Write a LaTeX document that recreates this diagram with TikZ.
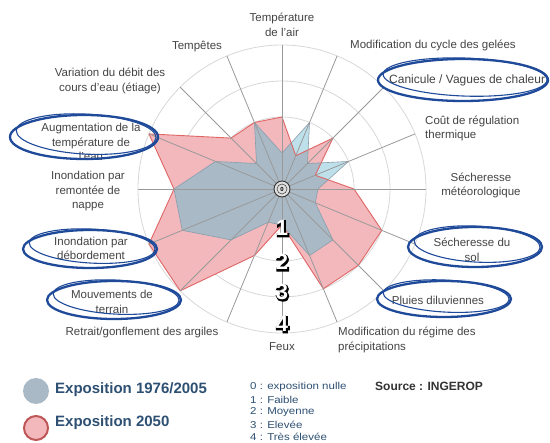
\documentclass[tikz,border=0pt]{standalone}
\usepackage{fontspec}
\setmainfont{Liberation Sans}
\newfontfamily\numout[FakeBold=10]{Liberation Sans Bold}
\usetikzlibrary{calc}
\definecolor{lbl}{HTML}{444444}
\definecolor{ringc}{HTML}{D8D8D8}
\definecolor{spokec}{HTML}{9A9A9A}
\definecolor{redfill}{HTML}{F2B8BC}
\definecolor{redline}{HTML}{E06666}
\definecolor{cyanfill}{HTML}{BEE0EA}
\definecolor{overfill}{HTML}{A9B9C6}
\definecolor{blueline}{HTML}{8C9CAA}
\definecolor{inkblue}{HTML}{1F4A9A}
\definecolor{legblue}{HTML}{2E5073}
\begin{document}
\begin{tikzpicture}[x=1pt,y=-1pt,
  lab/.style={text=lbl,font=\fontsize{11.5}{14.5}\selectfont,align=center,inner sep=0pt},
  labl/.style={lab,align=left,anchor=west},
  ink/.style={draw=inkblue,line width=2.3},
  inkthin/.style={draw=inkblue,line width=1.1},
  numblack/.style={font=\fontsize{22}{22}\numout,text=black,inner sep=0pt},
  numwhite/.style={font=\fontsize{22}{22}\selectfont\bfseries,text=white,inner sep=0pt}]
\useasboundingbox (0,0) rectangle (550,443);
\fill[white] (0,0) rectangle (550,443);
\begin{scope}[shift={(282,189)},y=1pt]
  \coordinate (c) at (0,0);
  \foreach \r in {1,...,4} \draw[ringc,line width=0.8] (c) circle[radius=36*\r];
  \foreach \v [count=\i from 0] in {2,1,2,1,2,3,3,3,1,2,4,4,3,4,2,2}
    \coordinate (r\i) at ({90-22.5*\i}:{36*\v});
  \foreach \v [count=\i from 0] in {1,2,1,2,1,1,2,2,1,1,2,3,3,2,1,2}
    \coordinate (b\i) at ({90-22.5*\i}:{36*\v});
  \foreach \i in {0,...,15} \coordinate (s\i) at ({90-22.5*\i}:144);
  \fill[redfill] (r0) \foreach \i in {1,...,15}{ -- (r\i)} -- cycle;
  \fill[cyanfill] (b0) \foreach \i in {1,...,15}{ -- (b\i)} -- cycle;
  \begin{scope}
    \clip (r0) \foreach \i in {1,...,15}{ -- (r\i)} -- cycle;
    \fill[overfill] (b0) \foreach \i in {1,...,15}{ -- (b\i)} -- cycle;
  \end{scope}
  \draw[redline,line width=0.9,line join=round] (r0) \foreach \i in {1,...,15}{ -- (r\i)} -- cycle;
  \draw[blueline,line width=0.6,line join=round] (b0) \foreach \i in {1,...,15}{ -- (b\i)} -- cycle;
  \foreach \i in {0,...,15} \draw[spokec,line width=0.8] (c) -- (s\i);
  \draw[fill=black!12,draw=black!80,line width=0.9] (c) circle[radius=8];
  \draw[black!70,line width=0.6] (c) circle[radius=5];
  \node[font=\fontsize{6}{6}\selectfont\bfseries,inner sep=0pt] (zero) at (c) {0};
\end{scope}
% scale numbers
\foreach \n/\yy in {1/228,2/262,3/292,4/324}{
  \node[numblack] (o\n) at (282.8,\yy+0.8) {\n};
  \node[numwhite] (w\n) at (282,\yy) {\n};
}
% axis labels
\node[lab] (l0) at (282,25) {Température\\de l'air};
\node[lab] (l1) at (433,45) {Modification du cycle des gelées};
\node[labl,font=\fontsize{12}{14.5}\selectfont] (l2) at (389,80) {Canicule / Vagues de chaleur};
\node[labl] (l3) at (425,128.5) {Coût de régulation\\thermique};
\node[lab] (l4) at (481,185.5) {Sécheresse\\météorologique};
\node[lab] (l5) at (472,250) {Sécheresse du\\sol};
\node[lab] (l6) at (438,300) {Pluies diluviennes};
\node[labl] (l7) at (338,340) {Modification du régime des\\précipitations};
\node[lab] (l8) at (282,347) {Feux};
\node[lab] (l9) at (142,333) {Retrait/gonflement des argiles};
\node[lab] (l10) at (112,302) {Mouvements de\\terrain};
\node[lab] (l11) at (91,248.5) {Inondation par\\débordement};
\node[lab] (l12) at (88,191.5) {Inondation par\\remontée de\\nappe};
\node[lab] (l13) at (91,142) {Augmentation de la\\température de\\l'eau};
\node[lab] (l14) at (110,81) {Variation du débit des\\cours d'eau (étiage)};
\node[lab] (l15) at (197,47) {Tempêtes};
% hand-drawn ellipses
\draw[ink] (84,137) ellipse[x radius=74,y radius=22];
\draw[inkthin,rotate around={-3:(84,137)}] (86,134) ellipse[x radius=70,y radius=20];
\draw[ink] (463,80) ellipse[x radius=85,y radius=21];
\draw[inkthin,rotate around={-2:(463,80)}] (465,77) ellipse[x radius=82,y radius=19];
\draw[ink] (90,249) ellipse[x radius=67,y radius=19];
\draw[inkthin,rotate around={-3:(90,249)}] (92,246) ellipse[x radius=63,y radius=17];
\draw[ink] (114,300) ellipse[x radius=67,y radius=19];
\draw[inkthin,rotate around={-3:(114,300)}] (116,297) ellipse[x radius=63,y radius=17];
\draw[ink] (475,247) ellipse[x radius=67,y radius=20];
\draw[inkthin,rotate around={-3:(475,247)}] (477,244) ellipse[x radius=63,y radius=18];
\draw[ink] (444,299) ellipse[x radius=67,y radius=18];
\draw[inkthin,rotate around={-3:(444,299)}] (446,296) ellipse[x radius=63,y radius=16];
% legend
\node[circle,fill=overfill,minimum size=26pt,inner sep=0pt] (legb) at (36,391) {};
\node[circle,fill=redfill,draw=redline!85!black,line width=2,minimum size=24pt,inner sep=0pt] (legr) at (36,428) {};
\node[anchor=west,text=legblue,font=\fontsize{15}{15}\selectfont\bfseries,inner sep=0pt] (legbt) at (55,390) {Exposition 1976/2005};
\node[anchor=west,text=legblue,font=\fontsize{15}{15}\selectfont\bfseries,inner sep=0pt] (legrt) at (55,423) {Exposition 2050};
\foreach \t [count=\k from 0] in {0 : exposition nulle,1 : Faible,2 : Moyenne,3 : Elevée,4 : Très élevée}
  \node[anchor=west,text=legblue,font=\fontsize{10}{10}\selectfont,inner sep=0pt,xscale=1.15,transform shape] (sc\k) at (250,387+12.5*\k) {\t};
\node[anchor=west,text=black!80,font=\fontsize{12}{12}\selectfont\bfseries,inner sep=0pt] (src) at (375,386) {Source : INGEROP};
\end{tikzpicture}
\end{document}
